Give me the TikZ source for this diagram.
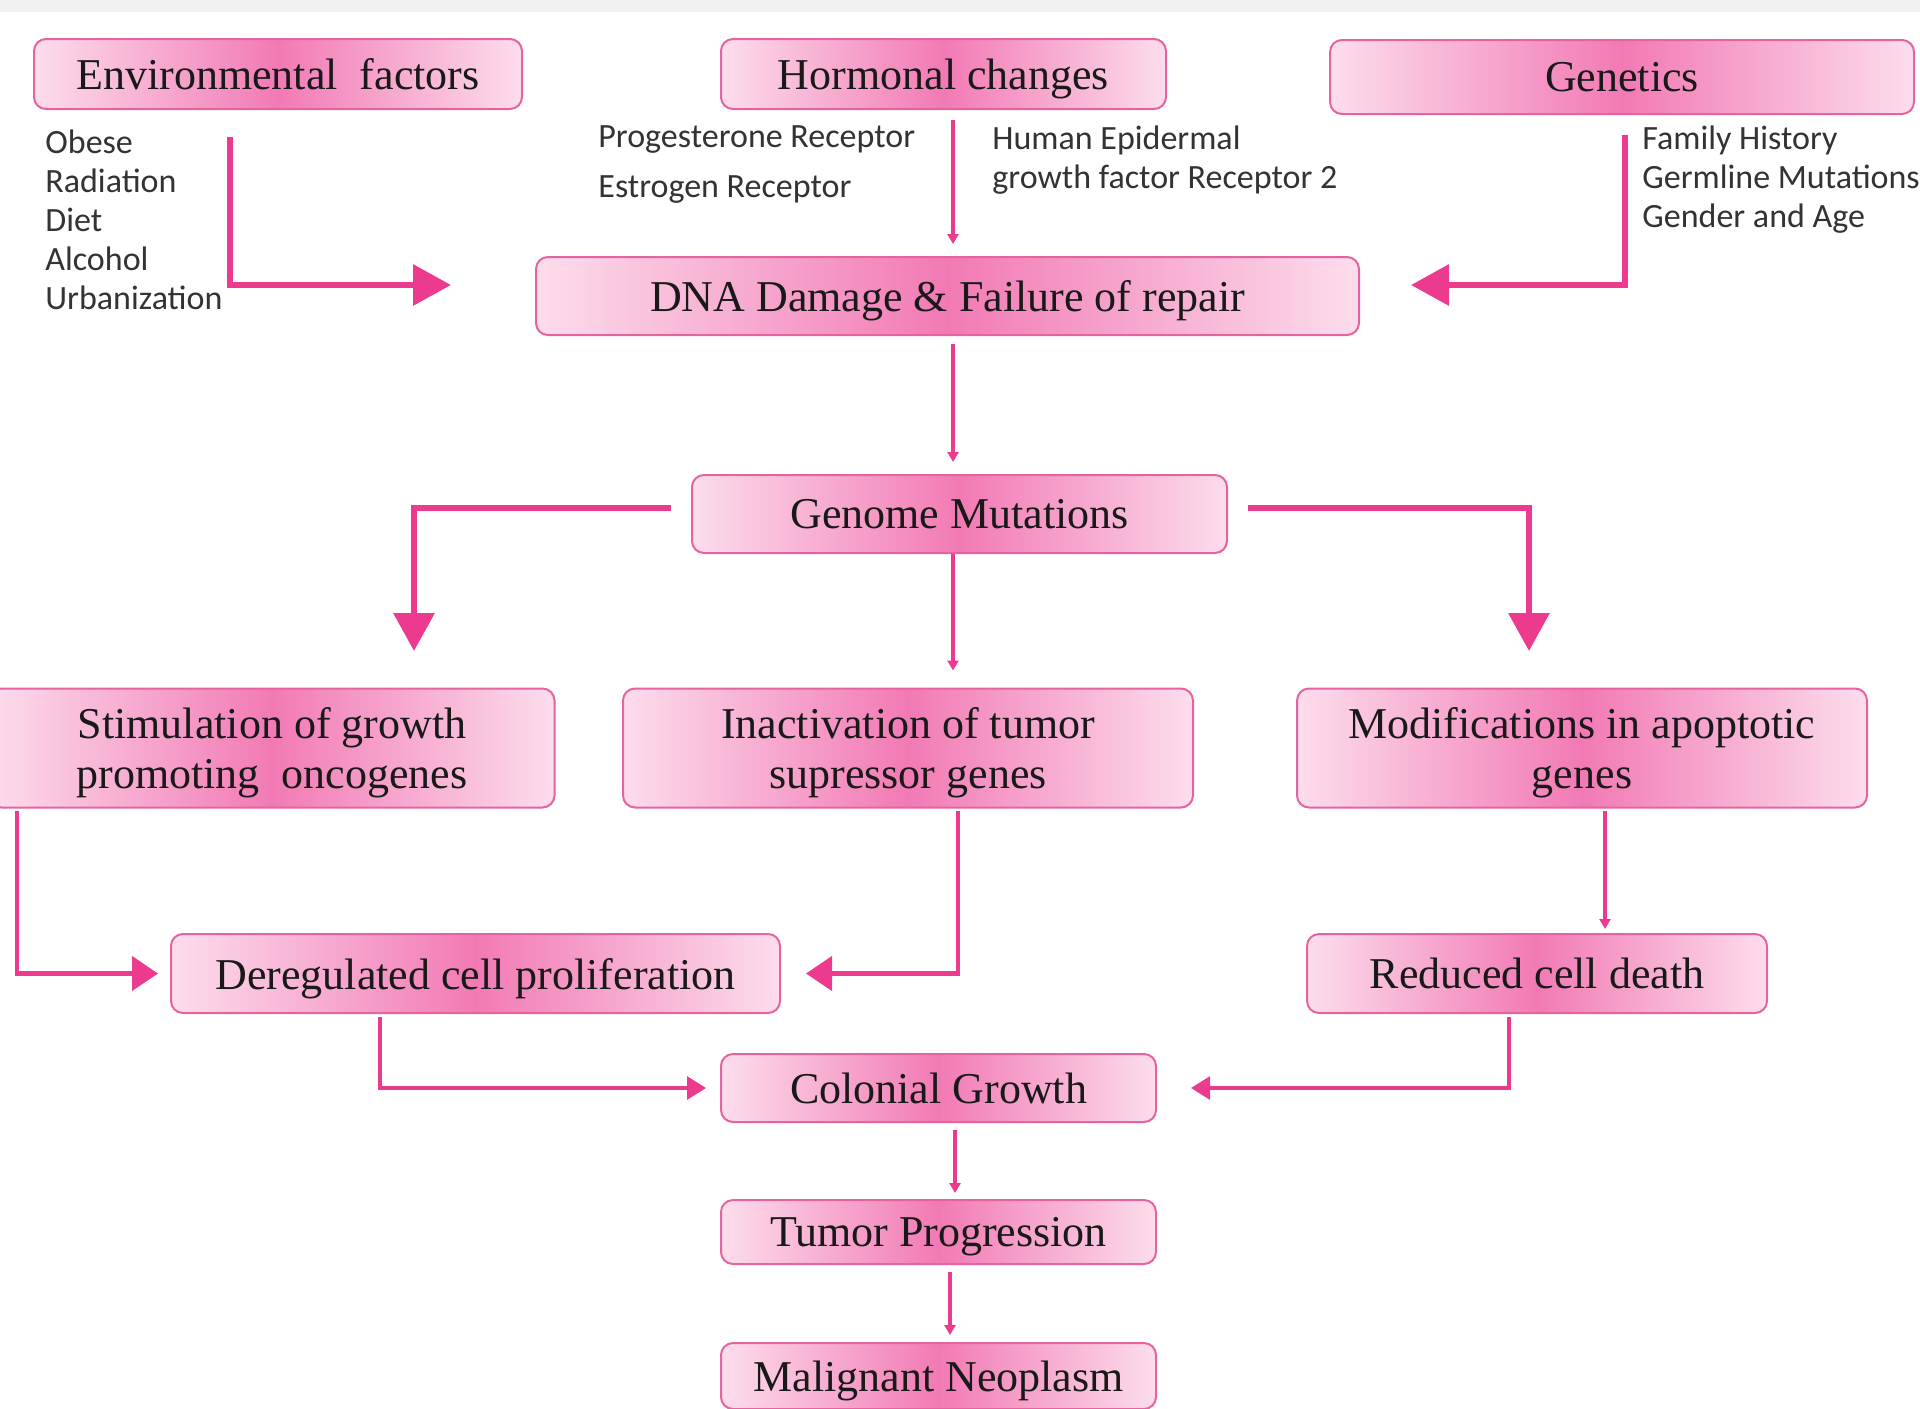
\documentclass[tikz,border=0pt]{standalone}
\usepackage{fontspec}
\setmainfont{Liberation Serif}
\newfontfamily\listfont{Carlito}
\usetikzlibrary{arrows.meta,positioning}

\definecolor{hotpink}{HTML}{EC3A8E}
\definecolor{boxedge}{HTML}{E5649F}
\definecolor{boxmid}{HTML}{F27AB4}
\definecolor{boxside}{HTML}{FCDDEC}

\tikzset{
    stage/.style={rectangle, rounded corners=6pt, draw=boxedge, line width=1pt,
        left color=boxside, right color=boxside, middle color=boxmid,
        font=\fontsize{22}{25}\selectfont, text=black!90, align=center, inner sep=0pt,
        text depth=0pt},
    factors/.style={font=\listfont\fontsize{17}{19.5}\selectfont, text=black!80,
        align=left, inner sep=0pt},
    bigarrow/.style={draw=hotpink, line width=3.2pt, -{Triangle[length=19pt,width=20pt]}},
    midarrow/.style={draw=hotpink, line width=2.2pt, -{Triangle[length=13pt,width=17pt]}},
    lowarrow/.style={draw=hotpink, line width=1.6pt, -{Triangle[length=9.5pt,width=11.5pt]}},
    thinarrow/.style={draw=hotpink, line width=2.3pt, -{Triangle[length=5pt,width=5.5pt]}}
}

\begin{document}
\begin{tikzpicture}[
                        x=0.5pt, y=-0.5pt,
                        node distance=72pt
                    ]
                    \useasboundingbox (0,0) rectangle (1920,1408);
                    \fill[white] (0,0) rectangle (1920,1408);
                    \fill[black!6] (0,0) rectangle (1920,12);

                    % Blocks
                    \node [stage, minimum width=244pt, minimum height=35pt] (env) at (278,74) {Environmental\ \ factors};
                    \node [stage, minimum width=222.5pt, minimum height=35pt] (horm) at (943.5,74) {Hormonal changes};
                    \node [stage, minimum width=292pt, minimum height=37pt] (gen) at (1622,77) {Genetics};
                    \node [stage, minimum width=411.5pt, minimum height=39pt] (dna) at (947.5,296) {DNA Damage \& Failure of repair};
                    \node [stage, minimum width=267.5pt, minimum height=39pt] (genome) at (959.5,514) {Genome Mutations};
                    \node [stage, minimum width=282.5pt, minimum height=59.5pt] (stim) at (272,748) {Stimulation of growth\\promoting\ \ oncogenes};
                    \node [stage, minimum width=285pt, minimum height=59.5pt] (inact) at (908,748) {Inactivation of tumor\\supressor genes};
                    \node [stage, minimum width=285pt, minimum height=59.5pt] (modif) at (1582,748) {Modifications in apoptotic\\genes};
                    \node [stage, minimum width=304.5pt, minimum height=39.5pt] (dereg) at (475.5,973.5) {Deregulated cell proliferation};
                    \node [stage, minimum width=230pt, minimum height=39.5pt] (reduced) at (1537,973.5) {Reduced cell death};
                    \node [stage, minimum width=217.5pt, minimum height=34pt] (colonial) at (938.5,1088) {Colonial Growth};
                    \node [stage, minimum width=217.5pt, minimum height=32pt, below of=colonial] (tumor) {Tumor Progression};
                    \node [stage, minimum width=217.5pt, minimum height=33pt, below of=tumor] (malig) {Malignant Neoplasm};

                    % Factor lists
                    \node [factors, anchor=north west] (envlist) at (45,129) {Obese\\Radiation\\Diet\\Alcohol\\Urbanization};
                    \node [factors, anchor=north west] (hormleft) at (598,125) {Progesterone Receptor\\[5.5pt]Estrogen Receptor};
                    \node [factors, anchor=north west] (hormright) at (992,125) {Human Epidermal\\growth factor Receptor 2};
                    \node [factors, anchor=north west] (genlist) at (1642,125) {Family History\\Germline Mutations\\Gender and Age};

                    % Rails and free ends
                    \coordinate (envtop) at (230,137);
                    \coordinate (envtip) at (451,285);
                    \coordinate (gentop) at (1625,135);
                    \coordinate (gentip) at (1411,285);
                    \coordinate (hormtop) at (953,120);
                    \coordinate (stimtip) at (414,651);
                    \coordinate (modiftip) at (1529,651);
                    \coordinate (leftrail) at (17,0);
                    \coordinate (inactrail) at (958,0);
                    \coordinate (modifrail) at (1605,0);
                    \coordinate (deregrail) at (380,0);
                    \coordinate (reducedrail) at (1509,0);
                    \coordinate (colonialrail) at (955,0);
                    \coordinate (tumorrail) at (950,0);

                    % Connections
                    \draw [bigarrow] (envtop) |- (envtip);
                    \draw [bigarrow] (gentop) |- (gentip);
                    \draw [thinarrow, shorten >=6pt] (hormtop) -- (hormtop |- dna.north);
                    \draw [thinarrow, shorten <=4pt, shorten >=6pt] (dna.south -| hormtop) -- (genome.north -| hormtop);
                    \draw [thinarrow, shorten >=8.5pt] (genome.south -| hormtop) -- (inact.north -| hormtop);
                    \draw [bigarrow, shorten <=10pt] ([yshift=3pt]genome.west) -| (stimtip);
                    \draw [bigarrow, shorten <=10pt] ([yshift=3pt]genome.east) -| (modiftip);
                    \draw [midarrow, shorten <=1pt, shorten >=6pt] (stim.south -| leftrail) |- (dereg.west);
                    \draw [midarrow, shorten <=1pt, shorten >=12.5pt] (inact.south -| inactrail) |- (dereg.east);
                    \draw [thinarrow, shorten <=1pt, shorten >=2pt] (modif.south -| modifrail) -- (reduced.north -| modifrail);
                    \draw [lowarrow, shorten <=1.5pt, shorten >=7pt] (dereg.south -| deregrail) |- (colonial.west);
                    \draw [lowarrow, shorten <=1.5pt, shorten >=17pt] (reduced.south -| reducedrail) |- (colonial.east);
                    \draw [thinarrow, shorten <=3.5pt, shorten >=3pt] (colonial.south -| colonialrail) -- (tumor.north -| colonialrail);
                    \draw [thinarrow, shorten <=3.5pt, shorten >=3.5pt] (tumor.south -| tumorrail) -- (malig.north -| tumorrail);
                \end{tikzpicture}
\end{document}
